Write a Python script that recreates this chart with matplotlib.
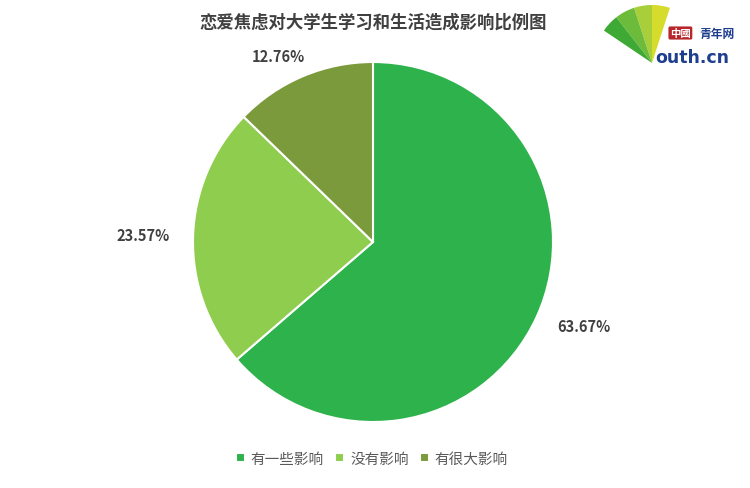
import numpy as np
import matplotlib.pyplot as plt
from matplotlib.patches import Wedge

plt.rcParams['font.family'] = ['Noto Sans CJK SC', 'DejaVu Sans']

title = '恋爱焦虑对大学生学习和生活造成影响比例图'
categories = ['有一些影响', '没有影响', '有很大影响']
shares = [63.67, 23.57, 12.76]
colors = ['#2eb24c', '#8fcd4e', '#7a9a3c']
label_dist = [1.26, 1.28, 1.16]
label_shift = [3, 0, 4]  # degrees, nudge from wedge middle

fig = plt.figure(figsize=(7.5, 4.89), dpi=100)
fig.patch.set_facecolor('white')

# pie axes: centre ~ (373, 243) px, radius ~180 px
ax = fig.add_axes([193 / 750, 66 / 489, 360 / 750, 360 / 489])
wedges, _ = ax.pie(shares, colors=colors, startangle=90, counterclock=False,
                   wedgeprops=dict(edgecolor='white', linewidth=1.5))
for w, v, d, s in zip(wedges, shares, label_dist, label_shift):
    ang = np.deg2rad((w.theta1 + w.theta2) / 2 + s)
    ax.text(d * np.cos(ang), d * np.sin(ang), '%.2f%%' % v, ha='center', va='center',
            fontsize=10.5, fontweight='bold', color='#404040')
ax.set_aspect('equal')
ax.set_xlim(-1, 1)
ax.set_ylim(-1, 1)

fig.text(373 / 750, 1 - 23 / 489, title, ha='center', va='center',
         fontsize=12.5, fontweight='bold', color='#404040')

fig.legend(wedges, categories, loc='center', bbox_to_anchor=(372 / 750, 1 - 460 / 489),
           ncol=3, frameon=False, fontsize=10.5, handlelength=0.6, handleheight=0.6,
           handletextpad=0.4, columnspacing=0.8, labelcolor='#595959')

# logo (approximation), coords = image pixels offset from (600, 0)
lax = fig.add_axes([600 / 750, 1 - 70 / 489, 150 / 750, 70 / 489])
lax.set_xlim(0, 150)
lax.set_ylim(0, 70)
lax.axis('off')
for a1, a2, c in [(72, 90, '#d6dc2c'), (90, 108, '#a8cf3a'), (108, 128, '#6dbb3a'), (128, 146, '#3ea935')]:
    lax.add_patch(Wedge((52, 6), 58, a1, a2, facecolor=c, edgecolor='none'))
lax.text(70, 36, '中國', fontsize=7.5, color='white', fontweight='bold', va='center',
         bbox=dict(facecolor='#b8262b', edgecolor='none', pad=1.2, boxstyle='round,pad=0.15'))
lax.text(99, 36, '青年网', fontsize=8.5, color='#1e3f8f', fontweight='bold', va='center',
         family=['Noto Sans CJK TC', 'DejaVu Sans'])
lax.text(55, 7, 'outh.cn', fontsize=12.5, color='#1e3f8f', fontweight='bold', va='baseline',
         family='DejaVu Sans')

fig.savefig('out.png', dpi=100)
